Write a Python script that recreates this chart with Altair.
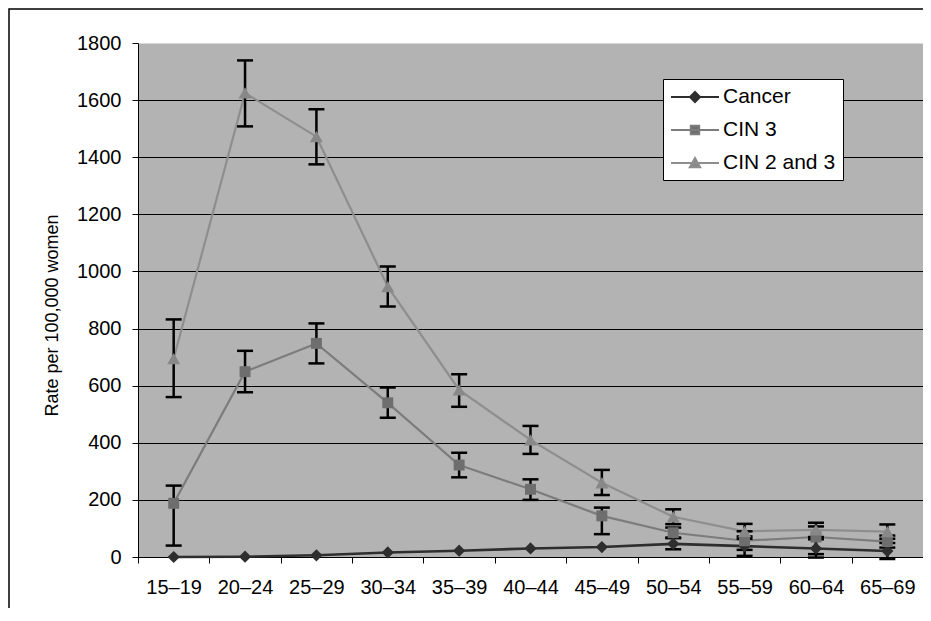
import altair as alt
import pandas as pd

ages = ["15–19", "20–24", "25–29", "30–34", "35–39", "40–44",
        "45–49", "50–54", "55–59", "60–64", "65–69"]
series_names = ["Cancer", "CIN 3", "CIN 2 and 3"]

cancer = [0, 1, 6, 16, 22, 30, 35, 46, 38, 30, 21]
cancer_lo = [None, None, None, None, None, None, None, 27, 4, -2, -7]
cancer_hi = [None, None, None, None, None, None, None, 66, 72, 62, 49]

cin3 = [188, 649, 748, 540, 322, 237, 144, 85, 57, 70, 54]
cin3_lo = [40, 577, 678, 488, 279, 200, 80, 68, 25, 10, 33]
cin3_hi = [250, 722, 818, 594, 365, 272, 173, 103, 90, 107, 75]

cin23 = [695, 1625, 1472, 947, 585, 410, 260, 141, 90, 95, 89]
cin23_lo = [560, 1508, 1375, 877, 526, 361, 217, 115, 64, 70, 64]
cin23_hi = [832, 1739, 1568, 1017, 640, 459, 305, 167, 116, 120, 114]

y_ticks = [0, 200, 400, 600, 800, 1000, 1200, 1400, 1600, 1800]

line_colors = ["#2e2e2e", "#7c7c7c", "#8e8e8e"]
line_widths = [2.6, 2.2, 2.2]
marker_colors = ["#2e2e2e", "#6e6e6e", "#888888"]
marker_shapes = ["diamond", "square", "triangle-up"]
marker_sizes = [150, 120, 170]
legend_paths = [
    "M-2.4,0H2.4M0,-0.5L0.5,0L0,0.5L-0.5,0Z",
    "M-2.4,0H2.4M-0.42,-0.42H0.42V0.42H-0.42Z",
    "M-2.4,0H2.4M0,-0.5L0.52,0.42H-0.52Z",
]

rows = []
for name, vals, lo, hi in [("Cancer", cancer, cancer_lo, cancer_hi),
                           ("CIN 3", cin3, cin3_lo, cin3_hi),
                           ("CIN 2 and 3", cin23, cin23_lo, cin23_hi)]:
    for a, v, l, h in zip(ages, vals, lo, hi):
        rows.append({"series": name, "age": a, "rate": v, "lo": l, "hi": h})
df = pd.DataFrame(rows)

FONT = "Liberation Sans"

x_enc = alt.X(
    "age:N", sort=ages,
    scale=alt.Scale(domain=ages, paddingInner=0, paddingOuter=0),
    axis=alt.Axis(title=None, labelAngle=0, tickBand="extent", grid=False,
                  domainColor="black", domainWidth=1, tickColor="black",
                  tickSize=6, tickWidth=1, labelFontSize=20, labelFont=FONT,
                  labelColor="black", labelPadding=14),
)
y_scale = alt.Scale(domain=[0, 1800], nice=False)
y_axis = alt.Axis(
    title="Rate per 100,000 women", values=y_ticks, format="d", grid=True,
    gridColor="black", gridWidth=1,
    gridOpacity={"condition": {"test": "datum.value >= 1800", "value": 0}, "value": 1},
    domainColor="black", domainWidth=1, tickColor="black", tickSize=6, tickWidth=1,
    labelFontSize=20, labelFont=FONT, labelColor="black", labelPadding=11,
    titleFontSize=18, titleFont=FONT, titleFontWeight="normal", titleColor="black",
    titleAngle=270, titleX=-81, titleY=272, titleAlign="center",
    titleBaseline="alphabetic",
)
y_enc = alt.Y("rate:Q", scale=y_scale, axis=y_axis)

base = alt.Chart(df)

frame = alt.Chart(pd.DataFrame({"f": [0]})).mark_rect(
    fillOpacity=0, stroke="black", strokeWidth=1.5
).encode(x=alt.value(-129), x2=alt.value(1000), y=alt.value(-34), y2=alt.value(800))

lines = []
for name, col, w in zip(series_names, line_colors, line_widths):
    lines.append(
        base.transform_filter(alt.datum.series == name)
        .mark_line(strokeWidth=w, color=col)
        .encode(x=x_enc, y=y_enc)
    )

eb = base.transform_filter("isValid(datum.lo)")
err_rule = eb.mark_rule(color="black", strokeWidth=2.5).encode(
    x=x_enc, y=alt.Y("lo:Q", scale=y_scale, axis=y_axis), y2="hi:Q")
cap_lo = eb.mark_tick(color="black", orient="horizontal", size=16, thickness=2.5, opacity=1).encode(
    x=x_enc, y=alt.Y("lo:Q", scale=y_scale, axis=y_axis))
cap_hi = eb.mark_tick(color="black", orient="horizontal", size=16, thickness=2.5, opacity=1).encode(
    x=x_enc, y=alt.Y("hi:Q", scale=y_scale, axis=y_axis))

markers = []
for name, shp, col, sz in zip(series_names, marker_shapes, marker_colors, marker_sizes):
    markers.append(
        base.transform_filter(alt.datum.series == name).mark_point(
            shape=shp, filled=True, color=col, size=sz, opacity=1, strokeWidth=0
        ).encode(x=x_enc, y=y_enc)
    )

leg = alt.Legend(
    title=None, orient="none", legendX=525, legendY=36,
    fillColor="white", strokeColor="black", padding=7,
    labelFontSize=21, labelFont=FONT, labelColor="black", labelLimit=400,
    symbolSize=400, symbolStrokeWidth=2, symbolOffset=14, labelOffset=17,
    rowPadding=12,
)
legend_layer = base.transform_filter(alt.datum.rate < -1000).mark_point(filled=True, opacity=1).encode(
    x=x_enc, y=y_enc,
    fill=alt.Fill("series:N", scale=alt.Scale(domain=series_names, range=marker_colors), legend=leg),
    stroke=alt.Stroke("series:N", scale=alt.Scale(domain=series_names, range=line_colors), legend=leg),
    shape=alt.Shape("series:N", scale=alt.Scale(domain=series_names, range=legend_paths), legend=leg),
)

chart = alt.layer(frame, *lines, err_rule, cap_lo, cap_hi, *markers, legend_layer).properties(
    width=785, height=514,
    autosize=alt.AutoSizeParams(type="none"),
    padding={"left": 130, "top": 35, "right": 0, "bottom": 51},
    background="white",
).configure_view(fill="#b3b3b3", strokeOpacity=0)

chart.save("out.html", embed_options={"renderer": "svg", "actions": False})
